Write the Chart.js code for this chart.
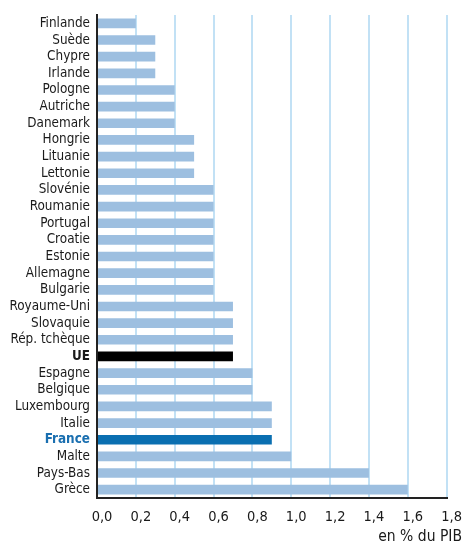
<!DOCTYPE html>
<html>
<head>
<meta charset="utf-8">
<script src="https://cdn.jsdelivr.net/npm/chart.js@4/dist/chart.umd.min.js"></script>
<style>
  html, body { margin: 0; padding: 0; background: #fff; }
  .root_chart { width: 468px; height: 543px; position: relative; }
</style>
</head>
<body>
<div class="root_chart"><canvas id="chart"></canvas></div>
<script>
const countries = ["Finlande", "Suède", "Chypre", "Irlande", "Pologne", "Autriche", "Danemark",
  "Hongrie", "Lituanie", "Lettonie", "Slovénie", "Roumanie", "Portugal", "Croatie", "Estonie",
  "Allemagne", "Bulgarie", "Royaume-Uni", "Slovaquie", "Rép. tchèque", "UE", "Espagne",
  "Belgique", "Luxembourg", "Italie", "France", "Malte", "Pays-Bas", "Grèce"];
const values = [0.2, 0.3, 0.3, 0.3, 0.4, 0.4, 0.4, 0.5, 0.5, 0.5, 0.6, 0.6, 0.6, 0.6, 0.6,
  0.6, 0.6, 0.7, 0.7, 0.7, 0.7, 0.8, 0.8, 0.9, 0.9, 0.9, 1.0, 1.4, 1.6];
const unitLabel = "en % du PIB";

const FONT = "'DejaVu Sans Condensed', 'Liberation Sans Narrow', sans-serif";
const barColor = (name) => name === "UE" ? "#000000" : name === "France" ? "#0a6fb1" : "#9dbfe0";
const labelColor = (name) => name === "France" ? "#1a6fb0" : "#1a1a1a";

const unitTitle = {
  id: "unitTitle",
  afterDraw(chart) {
    const ctx = chart.ctx;
    ctx.save();
    ctx.font = "15.5px " + FONT;
    ctx.fillStyle = "#1a1a1a";
    ctx.textAlign = "right";
    ctx.textBaseline = "middle";
    ctx.fillText(unitLabel, 462, 537);
    ctx.restore();
  }
};

let ctx = document.getElementById("chart");
let chart = new Chart(ctx, {
  type: "bar",
  data: {
    labels: countries,
    datasets: [
      {
        data: values,
        backgroundColor: countries.map(barColor),
        borderWidth: 0,
        barPercentage: 0.58,
        categoryPercentage: 1
      }
    ]
  },
  plugins: [unitTitle],
  options: {
    indexAxis: "y",
    responsive: true,
    maintainAspectRatio: false,
    animation: false,
    layout: { padding: { top: 0, right: 21, left: 0, bottom: 0 } },
    plugins: {
      legend: { display: false },
      tooltip: { enabled: false }
    },
    scales: {
      x: {
        min: 0,
        max: 1.8,
        ticks: {
          stepSize: 0.2,
          padding: 11,
          labelOffset: 5,
          color: "#1a1a1a",
          font: { family: FONT, size: 14.5 },
          callback: (v) => v.toFixed(1).replace(".", ",")
        },
        grid: { color: "#c2e1f5", lineWidth: 2, drawTicks: false },
        border: { color: "#222222", width: 2 },
        afterFit: (scale) => { scale.height = 45; }
      },
      y: {
        ticks: {
          autoSkip: false,
          padding: 7,
          color: (c) => labelColor(countries[c.index]),
          font: (c) => {
            const name = countries[c.index];
            const bold = name === "UE" || name === "France";
            return { family: FONT, size: 13.4, weight: bold ? "bold" : "normal" };
          }
        },
        grid: { display: false, drawTicks: false },
        border: { color: "#222222", width: 2 },
        afterFit: (scale) => { scale.width = 97; }
      }
    }
  }
});
</script>
</body>
</html>
